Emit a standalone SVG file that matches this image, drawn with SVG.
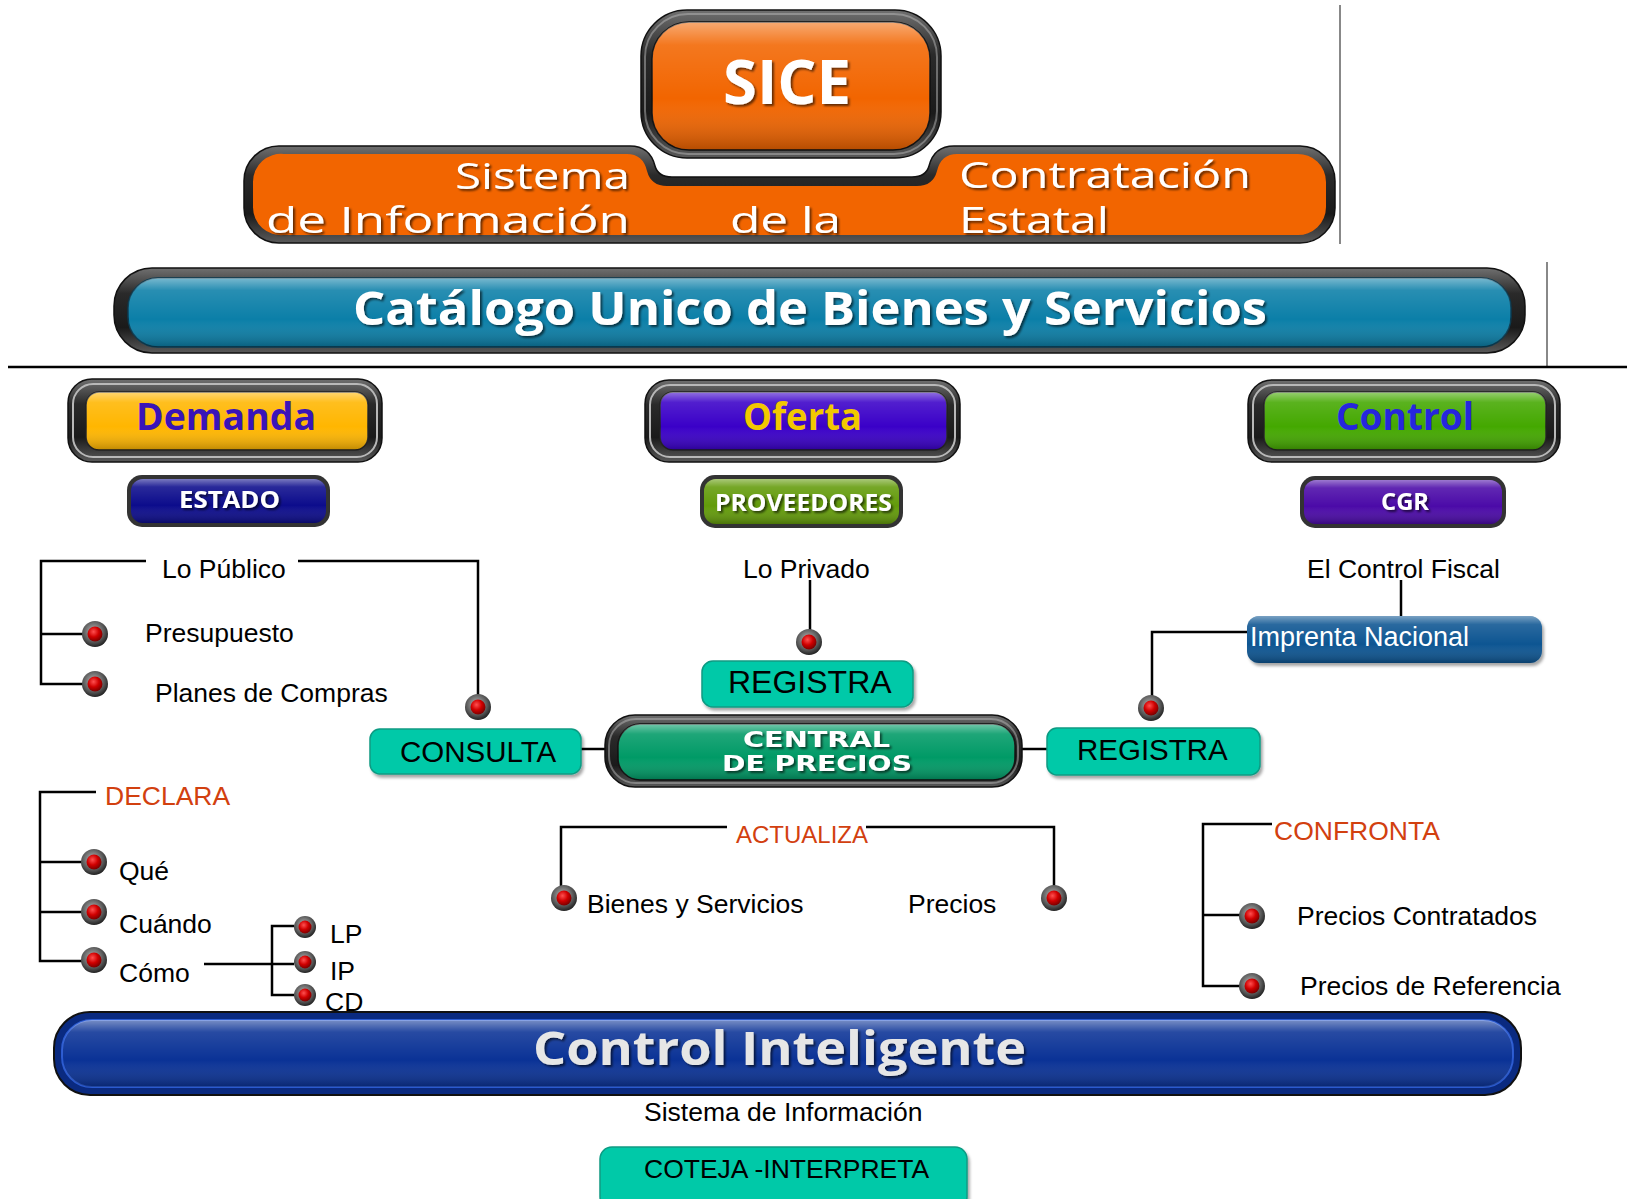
<svg xmlns="http://www.w3.org/2000/svg" width="1627" height="1199" viewBox="0 0 1627 1199">
<defs>
<style>
.t{font-family:"Liberation Sans",Arial,sans-serif;font-size:26.5px;fill:#000}
.red{fill:#d2400f}
.big{font-family:"Open Sans","DejaVu Sans",sans-serif;font-weight:700}
.band{font-family:"Open Sans","DejaVu Sans",sans-serif;font-weight:400;font-size:36px;fill:#fff;filter:url(#ts)}
.wt{fill:#fff;filter:url(#ts)}
.ln{stroke:#000;stroke-width:2.5;fill:none}
.ring{fill:url(#ring);stroke:#111;stroke-width:1.5}
.hl{fill:none;stroke:#b8b8b8;stroke-width:2}
.gl{fill:url(#gloss)}
.teal{fill:#00c9a8;stroke:#0a9a82;stroke-width:1.5;filter:url(#bs)}
</style>
<linearGradient id="gloss" x1="0" y1="0" x2="0" y2="1">
<stop offset="0" stop-color="#fff" stop-opacity="0.45"/>
<stop offset="0.18" stop-color="#fff" stop-opacity="0.12"/>
<stop offset="0.6" stop-color="#fff" stop-opacity="0"/>
<stop offset="1" stop-color="#000" stop-opacity="0.25"/>
</linearGradient>
<linearGradient id="ring" x1="0" y1="0" x2="0" y2="1">
<stop offset="0" stop-color="#707070"/>
<stop offset="0.3" stop-color="#2a2a2a"/>
<stop offset="0.7" stop-color="#1a1a1a"/>
<stop offset="1" stop-color="#5a5a5a"/>
</linearGradient>
<radialGradient id="bulRing" cx="0.45" cy="0.4" r="0.6">
<stop offset="0" stop-color="#bbb"/>
<stop offset="0.7" stop-color="#555"/>
<stop offset="1" stop-color="#222"/>
</radialGradient>
<radialGradient id="bulRed" cx="0.4" cy="0.35" r="0.7">
<stop offset="0" stop-color="#ff5050"/>
<stop offset="0.5" stop-color="#d00000"/>
<stop offset="1" stop-color="#700000"/>
</radialGradient>
<filter id="ts" x="-10%" y="-30%" width="120%" height="160%">
<feDropShadow dx="2" dy="2" stdDeviation="1" flood-color="#000" flood-opacity="0.6"/>
</filter>
<filter id="bs" x="-10%" y="-20%" width="120%" height="150%">
<feDropShadow dx="2" dy="3" stdDeviation="1.5" flood-color="#000" flood-opacity="0.35"/>
</filter>
<g id="bullet"><circle r="13" fill="url(#bulRing)"/><circle r="7.5" fill="url(#bulRed)"/></g>
<g id="bulletS"><circle r="11" fill="url(#bulRing)"/><circle r="6.5" fill="url(#bulRed)"/></g>
</defs>

<rect width="1627" height="1199" fill="#fff"/>

<g id="frame-lines">
<line x1="1340" y1="5" x2="1340" y2="244" stroke="#888" stroke-width="2"/>
<line x1="1547" y1="262" x2="1547" y2="366" stroke="#888" stroke-width="2"/>
<line x1="8" y1="367" x2="1627" y2="367" stroke="#000" stroke-width="2.5"/>
</g>

<g id="band">
<path d="M280,146 H630 Q650,146 655,166 Q658,177 672,177 H912 Q926,177 929,166 Q934,146 954,146 H1300 A35,35 0 0 1 1335,181 V208 A35,35 0 0 1 1300,243 H280 A35,35 0 0 1 244,208 V181 A35,35 0 0 1 280,146 Z" class="ring"/>
<path d="M284,154 H627 Q643,154 647,171 Q651,186 667,186 H917 Q933,186 937,171 Q941,154 957,154 H1297 A28,28 0 0 1 1326,182 V207 A28,28 0 0 1 1297,235 H284 A28,28 0 0 1 253,207 V182 A28,28 0 0 1 284,154 Z" fill="#f26500"/>
<text class="band" x="455" y="189" textLength="175" lengthAdjust="spacingAndGlyphs">Sistema</text>
<text class="band" x="266" y="233" textLength="364" lengthAdjust="spacingAndGlyphs">de  Información</text>
<text class="band" x="730" y="233" textLength="111" lengthAdjust="spacingAndGlyphs">de la</text>
<text class="band" x="959" y="188" textLength="292" lengthAdjust="spacingAndGlyphs">Contratación</text>
<text class="band" x="959" y="233" textLength="150" lengthAdjust="spacingAndGlyphs">Estatal</text>
</g>

<g id="sice">
<rect x="641" y="10" width="300" height="148" rx="46" class="ring"/>
<rect x="645" y="14" width="292" height="140" rx="43" class="hl" stroke-opacity="0.5"/>
<rect x="652" y="22" width="278" height="128" rx="37" fill="#f26500" stroke="#111" stroke-width="1.5"/>
<rect x="652" y="22" width="278" height="128" rx="37" class="gl"/>
<text class="big wt" x="723" y="104" font-size="60" textLength="128" lengthAdjust="spacingAndGlyphs">SICE</text>
</g>

<g id="catalogo">
<rect x="114" y="268" width="1411" height="85" rx="38" class="ring"/>
<rect x="128" y="278" width="1383" height="69" rx="30" fill="#0b7fa8" stroke="#0a3a50" stroke-width="1.5"/>
<rect x="128" y="278" width="1383" height="69" rx="30" class="gl"/>
<text class="big wt" x="353" y="325" font-size="46" textLength="914" lengthAdjust="spacingAndGlyphs">Catálogo Unico de Bienes y Servicios</text>
</g>

<g id="demanda">
<rect x="68" y="379" width="314" height="83" rx="24" class="ring"/>
<rect x="73" y="384" width="304" height="73" rx="20" class="hl"/>
<rect x="86" y="392" width="282" height="58" rx="13" fill="#ffb600" stroke="#222" stroke-width="1.5"/>
<rect x="86" y="392" width="282" height="58" rx="13" class="gl"/>
<text class="big" x="136" y="430" font-size="37" fill="#3a14b8" textLength="180" lengthAdjust="spacingAndGlyphs">Demanda</text>
</g>

<g id="oferta">
<rect x="645" y="380" width="315" height="82" rx="24" class="ring"/>
<rect x="650" y="385" width="305" height="72" rx="20" class="hl"/>
<rect x="660" y="392" width="287" height="58" rx="13" fill="#3a00c8" stroke="#222" stroke-width="1.5"/>
<rect x="660" y="392" width="287" height="58" rx="13" class="gl"/>
<text class="big" x="743" y="430" font-size="37" fill="#f2c800" textLength="119" lengthAdjust="spacingAndGlyphs">Oferta</text>
</g>

<g id="control">
<rect x="1248" y="380" width="312" height="82" rx="24" class="ring"/>
<rect x="1253" y="385" width="302" height="72" rx="20" class="hl"/>
<rect x="1264" y="392" width="282" height="58" rx="13" fill="#44a800" stroke="#222" stroke-width="1.5"/>
<rect x="1264" y="392" width="282" height="58" rx="13" class="gl"/>
<text class="big" x="1336" y="430" font-size="37" fill="#2626dd" textLength="138" lengthAdjust="spacingAndGlyphs">Control</text>
</g>

<g id="estado">
<rect x="127" y="475" width="203" height="52" rx="15" fill="#333"/>
<rect x="131" y="479" width="195" height="44" rx="12" fill="#0c0c8c"/>
<rect x="131" y="479" width="195" height="44" rx="12" class="gl"/>
<text class="big wt" x="179" y="508" font-size="23" textLength="101" lengthAdjust="spacingAndGlyphs">ESTADO</text>
</g>

<g id="proveedores">
<rect x="700" y="475" width="203" height="53" rx="15" fill="#333"/>
<rect x="704" y="479" width="195" height="45" rx="12" fill="#639b0a"/>
<rect x="704" y="479" width="195" height="45" rx="12" class="gl"/>
<text class="big wt" x="715" y="511" font-size="23" textLength="177" lengthAdjust="spacingAndGlyphs">PROVEEDORES</text>
</g>

<g id="cgr">
<rect x="1300" y="476" width="206" height="52" rx="15" fill="#333"/>
<rect x="1304" y="480" width="198" height="44" rx="12" fill="#4b0aa8"/>
<rect x="1304" y="480" width="198" height="44" rx="12" class="gl"/>
<text class="big wt" x="1381" y="510" font-size="23" textLength="48" lengthAdjust="spacingAndGlyphs">CGR</text>
</g>

<g id="connectors">
<path class="ln" d="M146,561 H41 V684 H84 M41,634 H84"/>
<path class="ln" d="M298,561 H478 V697"/>
<path class="ln" d="M810,580 V632"/>
<path class="ln" d="M1401,580 V616"/>
<path class="ln" d="M1247,632 H1152 V697"/>
<path class="ln" d="M581,749 H607"/>
<path class="ln" d="M1020,749 H1048"/>
<path class="ln" d="M96,792 H40 V961 H82 M40,862 H82 M40,912 H82"/>
<path class="ln" d="M204,964 H294 M294,926 H272 V995 H294"/>
<path class="ln" d="M727,827 H561 V888 M866,827 H1054 V888"/>
<path class="ln" d="M1272,824 H1203 V986 H1240 M1203,915 H1240"/>
</g>

<g id="lo-publico">
<text class="t" x="162" y="578">Lo Público</text>
<use href="#bullet" x="95" y="634"/>
<text class="t" x="145" y="642">Presupuesto</text>
<use href="#bullet" x="95" y="684"/>
<text class="t" x="155" y="702">Planes de Compras</text>
<use href="#bullet" x="478" y="707"/>
</g>

<g id="lo-privado">
<text class="t" x="743" y="578">Lo Privado</text>
<use href="#bullet" x="809" y="642"/>
</g>

<g id="control-fiscal">
<text class="t" x="1307" y="578">El Control Fiscal</text>
</g>

<g id="imprenta">
<rect x="1247" y="616" width="295" height="47" rx="12" fill="#0b5592" filter="url(#bs)"/>
<rect x="1247" y="616" width="295" height="47" rx="12" class="gl"/>
<text class="t" x="1250" y="646" style="fill:#fff;font-size:27px">Imprenta Nacional</text>
<use href="#bullet" x="1151" y="708"/>
</g>

<g id="registra-top">
<rect x="702" y="661" width="211" height="46" rx="11" class="teal"/>
<text class="t" x="728" y="693" style="font-size:32px">REGISTRA</text>
</g>

<g id="consulta">
<rect x="370" y="729" width="211" height="45" rx="10" class="teal"/>
<text class="t" x="400" y="762" style="font-size:29.5px">CONSULTA</text>
</g>

<g id="central">
<rect x="605" y="715" width="417" height="72" rx="30" class="ring"/>
<rect x="609" y="719" width="409" height="64" rx="27" class="hl" stroke-opacity="0.5"/>
<rect x="618" y="724" width="397" height="56" rx="22" fill="#009a66" stroke="#111" stroke-width="1.5"/>
<rect x="618" y="724" width="397" height="56" rx="22" class="gl"/>
<text class="wt" x="743" y="747" font-family="DejaVu Sans,sans-serif" font-weight="700" font-size="22" textLength="147" lengthAdjust="spacingAndGlyphs">CENTRAL</text>
<text class="wt" x="722" y="771" font-family="DejaVu Sans,sans-serif" font-weight="700" font-size="22" textLength="190" lengthAdjust="spacingAndGlyphs">DE PRECIOS</text>
</g>

<g id="registra-right">
<rect x="1047" y="728" width="213" height="47" rx="10" class="teal"/>
<text class="t" x="1077" y="760" style="font-size:29.5px">REGISTRA</text>
</g>

<g id="declara">
<text class="t red" x="105" y="805">DECLARA</text>
<use href="#bullet" x="94" y="862"/>
<text class="t" x="119" y="880">Qué</text>
<use href="#bullet" x="94" y="912"/>
<text class="t" x="119" y="933">Cuándo</text>
<use href="#bullet" x="94" y="960"/>
<text class="t" x="119" y="982">Cómo</text>
<use href="#bulletS" x="305" y="927"/>
<text class="t" x="330" y="943">LP</text>
<use href="#bulletS" x="305" y="962"/>
<text class="t" x="330" y="980">IP</text>
<use href="#bulletS" x="305" y="995"/>
<text class="t" x="325" y="1011">CD</text>
</g>

<g id="actualiza">
<text class="t red" x="736" y="843" style="font-size:24px">ACTUALIZA</text>
<use href="#bullet" x="564" y="898"/>
<text class="t" x="587" y="913">Bienes y Servicios</text>
<text class="t" x="908" y="913">Precios</text>
<use href="#bullet" x="1054" y="898"/>
</g>

<g id="confronta">
<text class="t red" x="1274" y="840">CONFRONTA</text>
<use href="#bullet" x="1252" y="916"/>
<text class="t" x="1297" y="925">Precios Contratados</text>
<use href="#bullet" x="1252" y="986"/>
<text class="t" x="1300" y="995">Precios de Referencia</text>
</g>

<g id="control-inteligente">
<rect x="54" y="1012" width="1467" height="83" rx="36" fill="#0a2a80" stroke="#111" stroke-width="2"/>
<rect x="62" y="1020" width="1451" height="67" rx="30" fill="#0a3296" stroke="#2a5ad0" stroke-width="2"/>
<rect x="62" y="1020" width="1451" height="67" rx="30" class="gl"/>
<text class="big" x="533" y="1065" font-size="46" fill="#e6e6e6" filter="url(#ts)" textLength="493" lengthAdjust="spacingAndGlyphs">Control Inteligente</text>
</g>

<g id="sistema-info">
<text class="t" x="644" y="1121">Sistema de Información</text>
</g>

<g id="coteja">
<rect x="600" y="1147" width="367" height="62" rx="12" class="teal"/>
<text class="t" x="644" y="1178">COTEJA -INTERPRETA</text>
</g>
</svg>
